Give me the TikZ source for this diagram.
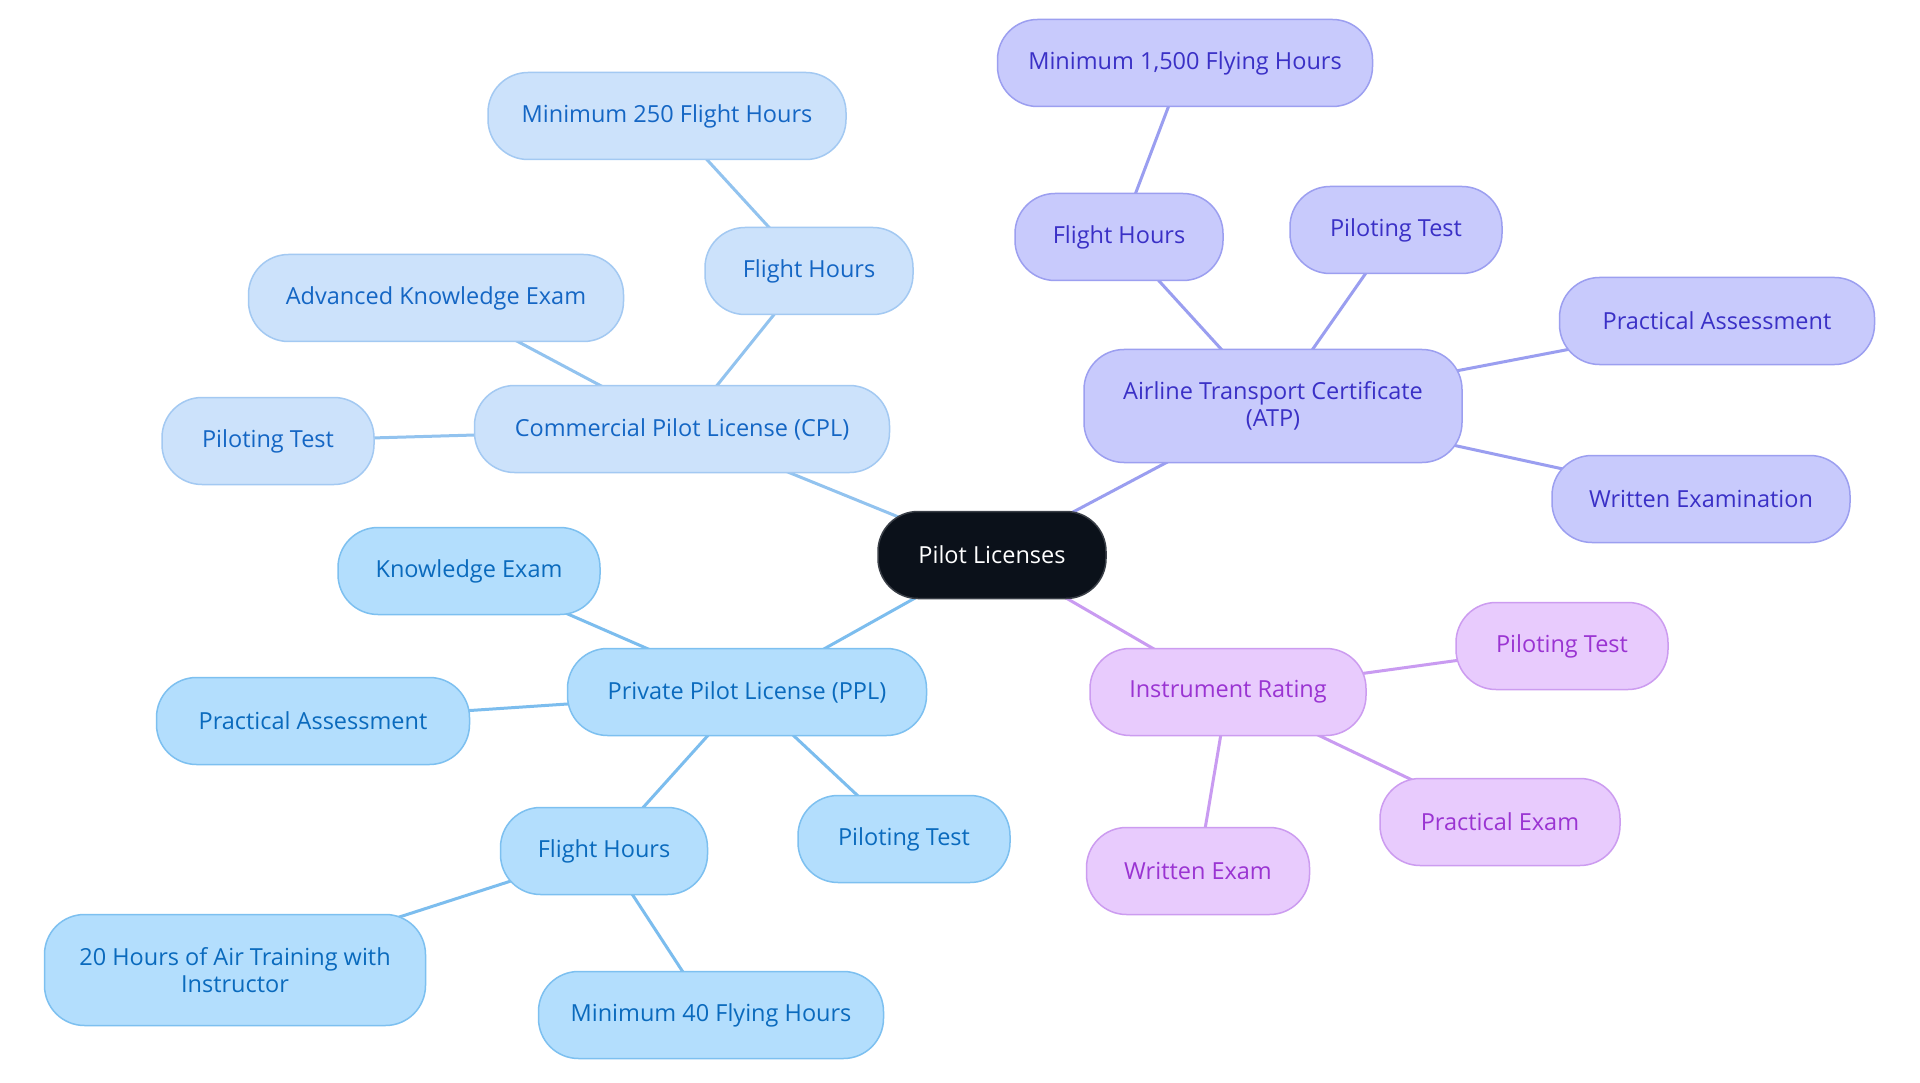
\documentclass[tikz,border=0pt]{standalone}
\usepackage{fontspec}
\setmainfont{Open Sans}
\definecolor{cfill}{HTML}{0B111A}
\definecolor{cborder}{HTML}{3A3F47}
\definecolor{bfill}{HTML}{CCE2FB}
\definecolor{bdraw}{HTML}{A3C9F2}
\definecolor{btext}{HTML}{1466C4}
\definecolor{bedge}{HTML}{92C3EF}
\definecolor{pfill}{HTML}{B3DEFD}
\definecolor{pdraw}{HTML}{7DC0F0}
\definecolor{ptext}{HTML}{0A6ABD}
\definecolor{pedge}{HTML}{7CBDEE}
\definecolor{afill}{HTML}{C8CAFC}
\definecolor{adraw}{HTML}{9C9FF0}
\definecolor{atext}{HTML}{3A30C6}
\definecolor{aedge}{HTML}{9A9EF0}
\definecolor{ifill}{HTML}{E8CBFD}
\definecolor{idraw}{HTML}{CC9CF0}
\definecolor{itext}{HTML}{9A34D2}
\definecolor{iedge}{HTML}{C99BF1}
\pgfdeclarelayer{bg}
\pgfdeclarelayer{edges}
\pgfsetlayers{bg,edges,main}
\begin{document}
\begin{tikzpicture}[x=1pt,y=-1pt,
  box/.style={rounded corners=40pt, line width=1.5pt, minimum height=87pt, inner sep=0pt, align=center, font=\fontsize{23.5}{27}\selectfont},
  cen/.style={box, fill=cfill, draw=cborder, text=white},
  bb/.style={box, fill=bfill, draw=bdraw, text=btext},
  pp/.style={box, fill=pfill, draw=pdraw, text=ptext},
  aa/.style={box, fill=afill, draw=adraw, text=atext},
  ii/.style={box, fill=ifill, draw=idraw, text=itext},
  eb/.style={draw=bedge, line width=3pt},
  ep/.style={draw=pedge, line width=3pt},
  ea/.style={draw=aedge, line width=3pt},
  ei/.style={draw=iedge, line width=3pt}]
\useasboundingbox (0,0) rectangle (1920,1083);
\begin{pgfonlayer}{bg}
\fill[white] (0,0) rectangle (1920,1083);
\end{pgfonlayer}
% nodes
\node[cen, minimum width=228pt] (root) at (992,555) {Pilot Licenses};
\node[bb, minimum width=415pt] (cpl) at (682,429) {Commercial Pilot License (CPL)};
\node[bb, minimum width=208pt] (cfh) at (809,271) {Flight Hours};
\node[bb, minimum width=358pt] (c250) at (667,116) {Minimum 250 Flight Hours};
\node[bb, minimum width=375pt] (cake) at (436,298) {Advanced Knowledge Exam};
\node[bb, minimum width=212pt] (cpt) at (268,441) {Piloting Test};
\node[pp, minimum width=359pt] (ppl) at (747,692) {Private Pilot License (PPL)};
\node[pp, minimum width=262pt] (pke) at (469,571) {Knowledge Exam};
\node[pp, minimum width=313pt] (ppa) at (313,721) {Practical Assessment};
\node[pp, minimum width=207pt] (pfh) at (604,851) {Flight Hours};
\node[pp, minimum width=212pt] (ppt) at (904,839) {Piloting Test};
\node[pp, minimum width=381pt, minimum height=111pt] (p20) at (235,970) {20 Hours of Air Training with\\Instructor};
\node[pp, minimum width=345pt] (p40) at (711,1015) {Minimum 40 Flying Hours};
\node[aa, minimum width=378pt, minimum height=113pt] (atp) at (1273,406) {Airline Transport Certificate\\(ATP)};
\node[aa, minimum width=208pt] (afh) at (1119,237) {Flight Hours};
\node[aa, minimum width=375pt] (a1500) at (1185,63) {Minimum 1,500 Flying Hours};
\node[aa, minimum width=212pt] (apt) at (1396,230) {Piloting Test};
\node[aa, minimum width=315pt] (apa) at (1717,321) {Practical Assessment};
\node[aa, minimum width=298pt] (awe) at (1701,499) {Written Examination};
\node[ii, minimum width=276pt] (ir) at (1228,692) {Instrument Rating};
\node[ii, minimum width=212pt] (ipt) at (1562,646) {Piloting Test};
\node[ii, minimum width=240pt] (ipe) at (1500,822) {Practical Exam};
\node[ii, minimum width=223pt] (iwe) at (1198,871) {Written Exam};
% edges
\begin{pgfonlayer}{edges}
\draw[eb] (root.center) -- (cpl.center);
\draw[eb] (cpl.center) -- (cfh.center);
\draw[eb] (cfh.center) -- (c250.center);
\draw[eb] (cpl.center) -- (cake.center);
\draw[eb] (cpl.center) -- (cpt.center);
\draw[ep] (root.center) -- (ppl.center);
\draw[ep] (ppl.center) -- (pke.center);
\draw[ep] (ppl.center) -- (ppa.center);
\draw[ep] (ppl.center) -- (pfh.center);
\draw[ep] (ppl.center) -- (ppt.center);
\draw[ep] (pfh.center) -- (p20.center);
\draw[ep] (pfh.center) -- (p40.center);
\draw[ea] (root.center) -- (atp.center);
\draw[ea] (atp.center) -- (afh.center);
\draw[ea] (afh.center) -- (a1500.center);
\draw[ea] (atp.center) -- (apt.center);
\draw[ea] (atp.center) -- (apa.center);
\draw[ea] (atp.center) -- (awe.center);
\draw[ei] (root.center) -- (ir.center);
\draw[ei] (ir.center) -- (ipt.center);
\draw[ei] (ir.center) -- (ipe.center);
\draw[ei] (ir.center) -- (iwe.center);
\end{pgfonlayer}
\end{tikzpicture}
\end{document}
